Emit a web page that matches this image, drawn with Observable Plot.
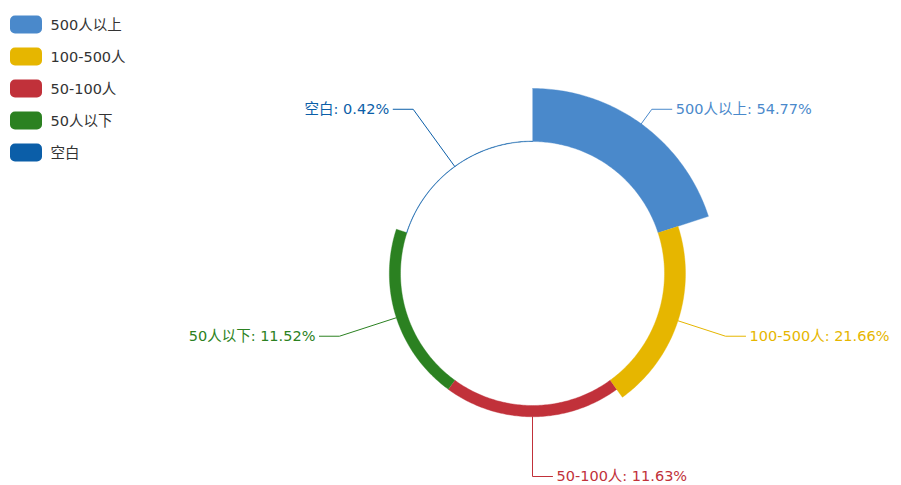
<!DOCTYPE html>
<html><head><meta charset="utf-8">
<script src="https://cdn.jsdelivr.net/npm/d3@7"></script>
<script src="https://cdn.jsdelivr.net/npm/@observablehq/plot@0.6"></script>
<style>
body{margin:0;background:#fff}
#chart{width:901px;height:485px}
</style>
</head><body><div id="chart"></div>
<script>
// ---- data ----
const categories = ["500人以上", "100-500人", "50-100人", "50人以下", "空白"];
const values = [54.77, 21.66, 11.63, 11.52, 0.42];
const colors = ["#4A89CB", "#E6B600", "#C1313A", "#2B8121", "#0B5EA8"];

// ---- layout ----
const W = 901, H = 485, cx = 532, cy = 273, r0 = 132, r1 = 185;
const font = "'DejaVu Sans','Noto Sans CJK SC',sans-serif";

// equal-angle rose (area type): angle band per category, radius by value
const angle = d3.scaleBand().domain(categories).range([0, 2 * Math.PI]);
const radius = d3.scaleLinear().domain([0, d3.max(values)]).range([r0, r1]);
const pt = (a, r) => [cx + r * Math.sin(a), cy - r * Math.cos(a)];

const sectors = [];
categories.forEach((c, i) => {
  const a0 = angle(c), a1 = a0 + angle.bandwidth(), r = radius(values[i]);
  const steps = 90;
  for (let k = 0; k <= steps; k++) { const [x, y] = pt(a0 + (a1 - a0) * k / steps, r); sectors.push({name: c, x, y}); }
  for (let k = steps; k >= 0; k--) { const [x, y] = pt(a0 + (a1 - a0) * k / steps, r0); sectors.push({name: c, x, y}); }
});

const leaders = [], labels = [];
categories.forEach((c, i) => {
  const am = angle(c) + angle.bandwidth() / 2;
  const p0 = pt(am, radius(values[i])), p1 = pt(am, 203);
  const dir = Math.sin(am) >= -1e-9 ? 1 : -1;
  const p2 = [p1[0] + dir * 20, p1[1]];
  leaders.push({name: c, x: p0[0], y: p0[1]}, {name: c, x: p1[0], y: p1[1]}, {name: c, x: p2[0], y: p2[1]});
  labels.push({name: c, x: p2[0] + dir * 4, y: p2[1], dir, text: `${c}: ${values[i].toFixed(2)}%`});
});

const legend = categories.map((c, i) => ({name: c, y: 24.5 + 32 * i}));

const chart = Plot.plot({
  width: W, height: H, margin: 0,
  x: {domain: [0, W], range: [0, W], axis: null},
  y: {domain: [0, H], range: [0, H], axis: null},
  color: {domain: categories, range: colors},
  style: {fontFamily: font, fontSize: "15px", background: "white", overflow: "visible"},
  marks: [
    Plot.line(sectors, {x: "x", y: "y", z: "name", fill: "name", stroke: "name", strokeWidth: 0.4, curve: "linear"}),
    Plot.line(leaders, {x: "x", y: "y", z: "name", stroke: "name", strokeWidth: 1}),
    Plot.text(labels.filter(d => d.dir > 0), {x: "x", y: "y", text: "text", fill: "name", textAnchor: "start", fontSize: 14.5}),
    Plot.text(labels.filter(d => d.dir < 0), {x: "x", y: "y", text: "text", fill: "name", textAnchor: "end", fontSize: 14.5}),
    Plot.rect(legend, {x1: 10, x2: 42, y1: d => d.y - 9, y2: d => d.y + 9, fill: "name", rx: 5}),
    Plot.text(legend, {x: 50, y: "y", text: "name", fill: "#333", textAnchor: "start", fontSize: 14.5})
  ]
});
document.getElementById("chart").appendChild(chart);
</script>
</body></html>
